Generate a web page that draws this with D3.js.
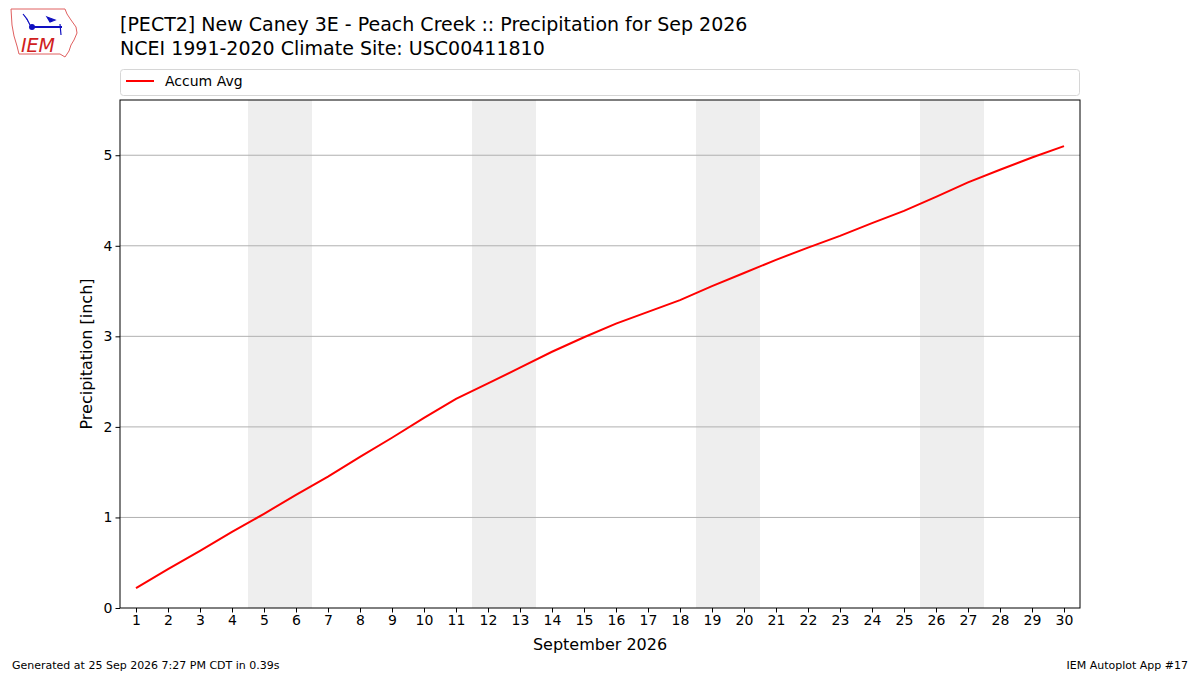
<!DOCTYPE html>
<html>
<head>
<meta charset="utf-8">
<script src="https://cdn.jsdelivr.net/npm/d3@7"></script>
<style>
  body { margin: 0; background: #fff; }
  svg text { font-family: "DejaVu Sans", sans-serif; fill: #000; }
</style>
</head>
<body>
<script>
// Sep 2026 daily accumulated climate precipitation (inch)
const days = d3.range(1, 31);
const accumAvg = [0.22, 0.43, 0.63, 0.84, 1.04, 1.25, 1.45, 1.67, 1.88, 2.10,
                  2.31, 2.48, 2.655, 2.83, 2.99, 3.14, 3.27, 3.40, 3.555, 3.70,
                  3.845, 3.98, 4.11, 4.25, 4.385, 4.54, 4.70, 4.84, 4.975, 5.10];
const weekends = [[5, 6], [12, 13], [19, 20], [26, 27]];
const yTicks = [0, 1, 2, 3, 4, 5];

const width = 1200, height = 675;
const margin = {left: 120, right: 120, top: 100, bottom: 67};

const svg = d3.select('body').append('svg')
    .attr('width', width).attr('height', height);

const x = d3.scaleLinear()
    .domain([0.5, 30.5])
    .range([margin.left, width - margin.right]);
const y = d3.scaleLinear()
    .domain([0, d3.max(accumAvg) * 1.1])
    .range([height - margin.bottom, margin.top]);

// weekend shading
svg.selectAll('rect.wk').data(weekends).enter().append('rect')
    .attr('class', 'wk')
    .attr('x', d => x(d[0] - 0.5))
    .attr('width', d => x(d[1] + 0.5) - x(d[0] - 0.5))
    .attr('y', margin.top)
    .attr('height', y(0) - margin.top)
    .attr('fill', '#eeeeee');

// horizontal grid
svg.append('g').selectAll('line').data(yTicks.slice(1)).enter().append('line')
    .attr('x1', x.range()[0]).attr('x2', x.range()[1])
    .attr('y1', d => y(d)).attr('y2', d => y(d))
    .attr('stroke', '#b0b0b0').attr('stroke-width', 1);

// line
const line = d3.line().x((d, i) => x(days[i])).y(d => y(d));
svg.append('path').datum(accumAvg)
    .attr('d', line)
    .attr('fill', 'none')
    .attr('stroke', 'red')
    .attr('stroke-width', 2);

// axes
const xAxis = d3.axisBottom(x).tickValues(days).tickSize(4.5).tickPadding(3);
const gx = svg.append('g')
    .attr('transform', 'translate(0,' + y(0) + ')')
    .call(xAxis);
const yAxis = d3.axisLeft(y).tickValues(yTicks).tickFormat(d3.format('d'))
    .tickSize(4.5).tickPadding(3);
const gy = svg.append('g')
    .attr('transform', 'translate(' + margin.left + ',0)')
    .call(yAxis);
[gx, gy].forEach(g => {
    g.selectAll('text').attr('font-size', 14).attr('font-family', 'DejaVu Sans');
    g.select('.domain').remove();
    g.selectAll('.tick line').attr('stroke', '#000').attr('stroke-width', 1);
});

// frame
svg.append('rect')
    .attr('x', margin.left).attr('y', margin.top)
    .attr('width', x.range()[1] - x.range()[0])
    .attr('height', y(0) - margin.top)
    .attr('fill', 'none').attr('stroke', '#000').attr('stroke-width', 1);

// axis labels
svg.append('text')
    .attr('transform', 'translate(92,' + ((margin.top + y(0)) / 2) + ') rotate(-90)')
    .attr('text-anchor', 'middle')
    .attr('font-size', 16)
    .text('Precipitation [inch]');
svg.append('text')
    .attr('x', (x.range()[0] + x.range()[1]) / 2).attr('y', 650)
    .attr('text-anchor', 'middle')
    .attr('font-size', 16)
    .text('September 2026');

// titles
svg.append('text').attr('x', 120).attr('y', 31).attr('font-size', 19)
    .text('[PECT2] New Caney 3E - Peach Creek :: Precipitation for Sep 2026');
svg.append('text').attr('x', 120).attr('y', 55).attr('font-size', 19)
    .text('NCEI 1991-2020 Climate Site: USC00411810');

// legend
svg.append('rect')
    .attr('x', 120.5).attr('y', 69.5).attr('width', 959).attr('height', 26)
    .attr('rx', 3)
    .attr('fill', '#fff').attr('stroke', '#d6d6d6');
svg.append('line')
    .attr('x1', 126).attr('x2', 154).attr('y1', 81).attr('y2', 81)
    .attr('stroke', 'red').attr('stroke-width', 2);
svg.append('text').attr('x', 165).attr('y', 86).attr('font-size', 14)
    .text('Accum Avg');

// footer
svg.append('text').attr('x', 12).attr('y', 669).attr('font-size', 11)
    .text('Generated at 25 Sep 2026 7:27 PM CDT in 0.39s');
svg.append('text').attr('x', 1188).attr('y', 669).attr('font-size', 11)
    .attr('text-anchor', 'end')
    .text('IEM Autoplot App #17');

// logo (rough)
const logo = svg.append('g');
logo.append('path')
    .attr('d', 'M11,9 L65,9 L67,14 L71,20 L76,27 L77,33 L74,40 L71,45 L69,51 L65,57 L60,54 L19,54 L17,46 L14,36 L12,25 Z')
    .attr('fill', 'none').attr('stroke', '#e06060').attr('stroke-width', 1);
logo.append('line').attr('x1', 32).attr('x2', 62).attr('y1', 27).attr('y2', 27)
    .attr('stroke', '#1010c0').attr('stroke-width', 2);
logo.append('circle').attr('cx', 32).attr('cy', 27).attr('r', 3).attr('fill', '#1010c0');
logo.append('path').attr('d', 'M23,14 L27,19 L30,25 M47,17 L55,20 L50,22 Z M60,24 L61,35')
    .attr('fill', '#1010c0').attr('stroke', '#1010c0').attr('stroke-width', 1.2);
logo.append('text').attr('x', 21).attr('y', 52)
    .attr('font-family', 'Liberation Serif').attr('font-style', 'italic')
    .attr('font-size', 19).style('fill', '#d02020')
    .text('IEM');
</script>
</body>
</html>
